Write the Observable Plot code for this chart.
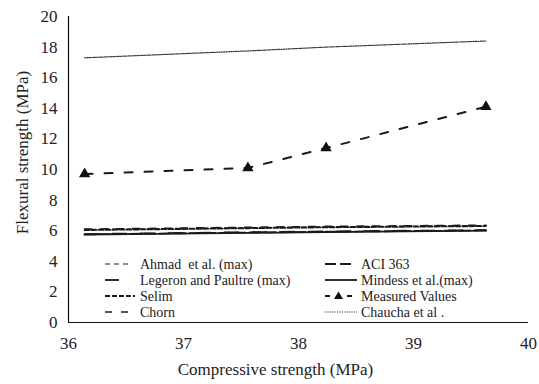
<!DOCTYPE html>
<html><head><meta charset="utf-8">
<script src="https://cdn.jsdelivr.net/npm/d3@7"></script>
<script src="https://cdn.jsdelivr.net/npm/@observablehq/plot@0.6"></script>
<style>
body{margin:0;background:#fff;}
</style>
</head><body>
<div id="chart"></div>
<script>
const compressive = [36.14, 37.56, 38.24, 39.63];
const seriesNames = ["Ahmad  et al. (max)", "ACI 363", "Legeron and Paultre (max)", "Mindess et al.(max)", "Selim", "Measured Values", "Chorn", "Chaucha et al ."];
const ahmad    = [6.08, 6.20, 6.26, 6.34];
const aci363   = [5.76, 5.88, 5.93, 6.02];
const legeron  = [5.78, 5.90, 5.95, 6.04];
const mindess  = [5.74, 5.86, 5.91, 6.00];
const selim    = [6.04, 6.16, 6.22, 6.30];
const measured = [9.70, 10.10, 11.40, 14.10];
const chorn    = [6.10, 6.22, 6.28, 6.36];
const chaucha  = [17.30, 17.75, 18.00, 18.40];
const xTicks = [36, 37, 38, 39, 40];
const yTicks = [0, 2, 4, 6, 8, 10, 12, 14, 16, 18, 20];

const seriesValues = [ahmad, aci363, legeron, mindess, selim, measured, chorn, chaucha];
const styles = [
  {dash: "4,3", w: 1.2},
  {dash: "11,4", w: 1.8},
  {dash: "14,14", w: 1.8},
  {dash: null, w: 1.8},
  {dash: "5,2", w: 1.8},
  {dash: "8,12", w: 2},
  {dash: "7,9", w: 1.6},
  {dash: "1.2,1.2", w: 1.2}
];
const table = seriesNames.map((name, i) => compressive.map((x, j) => ({series: name, x, y: seriesValues[i][j]})));

const FONT = '"Liberation Serif","Times New Roman",serif';
const marks = [];
table.forEach((rows, i) => {
  const s = styles[i];
  const opts = {x: "x", y: "y", stroke: i === 7 ? "#333" : "#1a1a1a", strokeWidth: s.w};
  if (s.dash) opts.strokeDasharray = s.dash;
  marks.push(Plot.line(rows, opts));
});
marks.push(Plot.dot(table[5], {x: "x", y: "y", symbol: "triangle", fill: "#111", r: 4.2}));
marks.push(Plot.ruleX([36], {stroke: "#111", strokeWidth: 1.2}));
marks.push(Plot.ruleY([0], {stroke: "#111", strokeWidth: 1.2}));
marks.push(Plot.axisX({ticks: xTicks, tickFormat: "d", tickSize: 0, tickPadding: 14, fontSize: 17, label: null}));
marks.push(Plot.axisY({ticks: yTicks, tickFormat: "d", tickSize: 0, tickPadding: 11, fontSize: 17, label: null}));
marks.push(Plot.text(["Compressive strength (MPa)"], {frameAnchor: "bottom", dx: -23, dy: 52, fontSize: 17, fill: "#222"}));
marks.push(Plot.text(["Flexural strength (MPa)"], {frameAnchor: "left", textAnchor: "middle", rotate: -90, dx: -46, dy: -17, fontSize: 17, fill: "#222"}));

const chart = Plot.plot({
  width: 539, height: 384,
  marginLeft: 68, marginRight: 11, marginTop: 16, marginBottom: 62,
  style: {fontFamily: FONT, color: "#222", background: "#fff"},
  x: {domain: [36, 40]},
  y: {domain: [0, 20]},
  marks
});
document.getElementById("chart").append(chart);

// legend drawn inside the SVG
const svg = d3.select(chart);
const lg = svg.append("g").attr("font-family", FONT).attr("font-size", 14).attr("fill", "#222").attr("text-anchor", "start");
const swatch = [
  {sx: 105, sw: 24, dash: "5,4"},
  {sx: 325, sw: 26, dash: "11,4"},
  {sx: 105, sw: 14, dash: null},
  {sx: 325, sw: 32, dash: null},
  {sx: 105, sw: 30, dash: "5,2"},
  {sx: 325, sw: 27, dash: "5,17"},
  {sx: 105, sw: 23, dash: "7,9"},
  {sx: 325, sw: 32, dash: "1.2,1.2"}
];
const textX = [140, 361];
const rowY = [264, 280, 296, 312];
seriesNames.forEach((name, i) => {
  const sw = swatch[i];
  const y = rowY[Math.floor(i / 2)];
  const ln = lg.append("line").attr("x1", sw.sx).attr("x2", sw.sx + sw.sw).attr("y1", y).attr("y2", y)
    .attr("stroke", i === 7 ? "#333" : "#1a1a1a").attr("stroke-width", styles[i].w);
  if (sw.dash) ln.attr("stroke-dasharray", sw.dash);
  if (i === 5) {
    const cx = sw.sx + sw.sw / 2;
    lg.append("path").attr("d", `M${cx},${y - 4.5} L${cx + 4.5},${y + 3} L${cx - 4.5},${y + 3} Z`).attr("fill", "#111");
  }
  lg.append("text").attr("x", textX[i % 2]).attr("y", y).attr("dy", "0.35em").attr("text-anchor", "start").style("white-space", "pre").text(name);
});
</script>
</body></html>
